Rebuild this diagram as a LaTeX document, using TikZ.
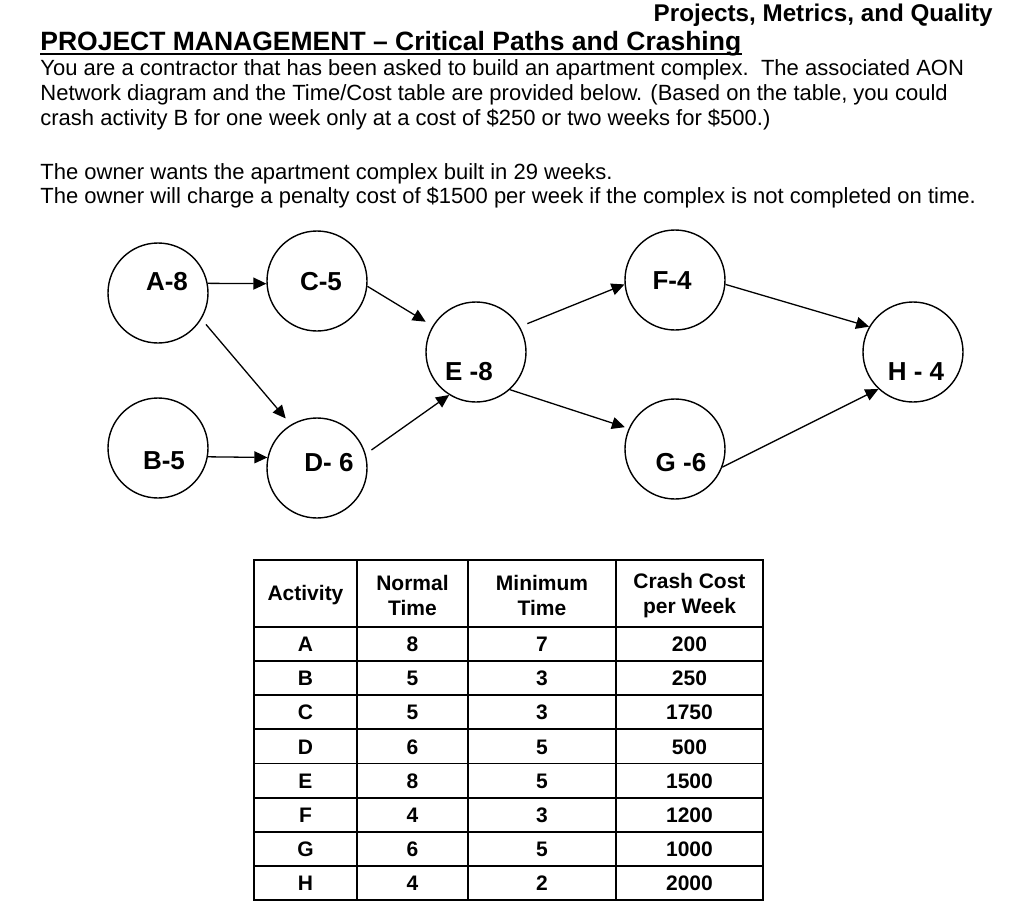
\documentclass[tikz,border=0pt]{standalone}
\usepackage{fontspec}
\setmainfont{Liberation Sans}
\usetikzlibrary{arrows.meta}

\newcommand{\bodyfont}{\fontsize{11}{12.5}\selectfont}
\newcommand{\titlefont}{\fontsize{13.25}{15}\selectfont\bfseries}
\newcommand{\headfont}{\fontsize{12.1}{14}\selectfont\bfseries}
\newcommand{\actfont}{\fontsize{13}{15}\selectfont\bfseries}
\newcommand{\cellfont}{\fontsize{10.5}{12.5}\selectfont\bfseries}

\begin{document}
\begin{tikzpicture}[x=0.5pt, y=-0.5pt, >={Triangle[length=6.5pt, width=6pt]},
    act/.style={circle, draw, line width=0.7pt, minimum size=50pt, inner sep=0pt},
    lnk/.style={->, line width=0.65pt},
    txt/.style={inner sep=0pt, anchor=base west, font=\bodyfont},
    cell/.style={inner sep=0pt, align=center, font=\cellfont},
    val/.style={cell, text height=7.6pt, text depth=0pt}]
        \useasboundingbox (0,0) rectangle (1024,901);

        % heading
        \node [txt, font=\headfont, anchor=base east] (hdr) at (993,21) {Projects, Metrics, and Quality};
        \node [txt, font=\titlefont] (ttl) at (40,50) {PROJECT MANAGEMENT \textendash{} Critical Paths and Crashing};
        \draw [line width=1pt] ([yshift=-2pt]ttl.base west) -- ([yshift=-2pt]ttl.base east);

        \node [txt] (l1) at (40,75.7) {You are a contractor that has been asked to build an apartment complex.\ \ The associated AON};
        \node [txt] (l2) at (40,100.7) {Network diagram and the Time/Cost table are provided below. (Based on the table, you could};
        \node [txt] (l3) at (40,125.7) {crash activity B for one week only at a cost of \$250 or two weeks for \$500.)};
        \node [txt] (l4) at (40,179) {The owner wants the apartment complex built in 29 weeks.};
        \node [txt] (l5) at (40,203) {The owner will charge a penalty cost of \$1500 per week if the complex is not completed on time.};

        % AON network
        \node [act, label={[shift={(9,-11)}, font=\actfont]center:A-8}] (A) at (158,293) {};
        \node [act, label={[shift={(6,13)}, font=\actfont]center:B-5}] (B) at (158,448) {};
        \node [act, label={[shift={(4,1)}, font=\actfont]center:C-5}] (C) at (317,281) {};
        \node [act, label={[shift={(12,-5)}, font=\actfont]center:D- 6}] (D) at (317,468) {};
        \node [act, label={[shift={(-7,20)}, font=\actfont]center:E -8}] (E) at (476,352) {};
        \node [act, label={[shift={(-3,1)}, font=\actfont]center:F-4}] (F) at (675,280) {};
        \node [act, label={[shift={(6,14)}, font=\actfont]center:G -6}] (G) at (675,449) {};
        \node [act, label={[shift={(3,20)}, font=\actfont]center:H - 4}] (H) at (913,352) {};

        \draw [lnk] (A.11) -- (C.183);
        \draw [lnk, shorten <=3.5pt, shorten >=4pt] (A.-31) -- (D.121);
        \draw [lnk] (B.-10) -- (D.168);
        \draw [lnk, shorten >=4pt] (C.-6) -- (E.149);
        \draw [lnk, shorten <=3.5pt] (D.16) -- (E.238);
        \draw [lnk, shorten <=4pt] (E.30) -- (F.185);
        \draw [lnk, shorten >=2pt] (E.-48) -- (G.156);
        \draw [lnk] (F.-5) -- (H.150);
        \draw [lnk] (G.-21) -- (H.227);

        % time/cost table
        \draw [line width=0.9pt] (254,560) rectangle (763,900);
        \foreach \x in {357,468,616}
            \draw [line width=0.9pt] (\x,560) -- (\x,900);
        \foreach \i in {0,...,7}
            \draw [line width=0.9pt] (254,{627+34.125*\i}) -- (763,{627+34.125*\i});

        \node [cell, text height=7.6pt, text depth=2pt] (hAct) at (305.5,595) {Activity};
        \node [cell] (hNorm) at (412.5,595) {Normal\\Time};
        \node [cell] (hMin) at (542,595) {Minimum\\Time};
        \node [cell] (hCost) at (689.5,596) {Crash Cost\\per Week};

        \foreach \a/\n/\m/\c [count=\i] in {A/8/7/200, B/5/3/250, C/5/3/1750, D/6/5/500,
                E/8/5/1500, F/4/3/1200, G/6/5/1000, H/4/2/2000} {
            \node [val] (act\a) at (305.5,{627+34.125*(\i-0.5)}) {\a};
            \node [val] (norm\a) at (412.5,{627+34.125*(\i-0.5)}) {\n};
            \node [val] (min\a) at (542,{627+34.125*(\i-0.5)}) {\m};
            \node [val] (cost\a) at (689.5,{627+34.125*(\i-0.5)}) {\c};
        }
\end{tikzpicture}
\end{document}
